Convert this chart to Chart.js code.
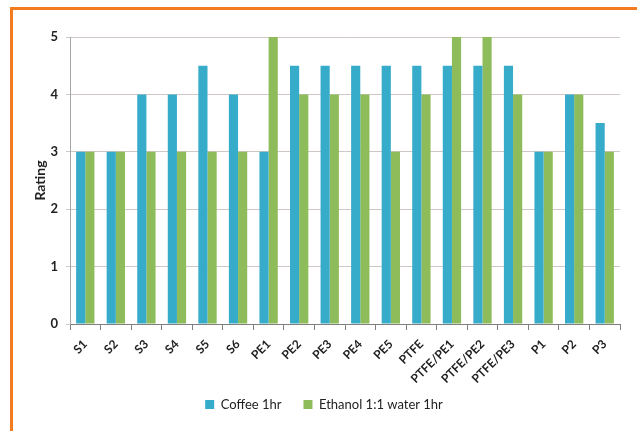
<!DOCTYPE html>
<html>
<head>
<meta charset="utf-8">
<script src="https://cdn.jsdelivr.net/npm/chart.js@4/dist/chart.umd.min.js"></script>
<style>
  html, body { margin: 0; padding: 0; background: #fff; }
  #wrap { position: relative; width: 637px; height: 431px; overflow: hidden; }
  #frame {
    position: absolute; left: 10px; top: 7px; width: 660px; height: 460px;
    border-top: 3px solid #F47B20; border-left: 3px solid #F47B20;
    box-sizing: border-box; pointer-events: none;
  }
  canvas { position: absolute; left: 0; top: 0; }
</style>
</head>
<body>
<div id="wrap">
  <canvas id="c" width="637" height="431"></canvas>
  <div id="frame"></div>
</div>
<script>
// Samples tested
const categories = ['S1', 'S2', 'S3', 'S4', 'S5', 'S6', 'PE1', 'PE2', 'PE3', 'PE4', 'PE5',
  'PTFE', 'PTFE/PE1', 'PTFE/PE2', 'PTFE/PE3', 'P1', 'P2', 'P3'];

// Stain rating after 1 hour exposure
const coffee1hr = [3, 3, 4, 4, 4.5, 4, 3, 4.5, 4.5, 4.5, 4.5, 4.5, 4.5, 4.5, 4.5, 3, 4, 3.5];
const ethanolWater1hr = [3, 3, 3, 3, 3, 3, 5, 4, 4, 4, 3, 4, 5, 5, 4, 3, 4, 3];

const seriesNames = ['Coffee 1hr', 'Ethanol 1:1 water 1hr'];
const yMin = 0, yMax = 5, yStep = 1;

const FONT = 'Lato, "Open Sans", "Liberation Sans", sans-serif';
const TEXT = '#222';

// Pull the legend up a little so it sits closer to the rotated category labels
const legendLift = {
  id: 'legendLift',
  afterLayout(chart) {
    const lg = chart.legend;
    if (lg) { lg.top -= 10; lg.bottom -= 10; }
  }
};

new Chart(document.getElementById('c'), {
  type: 'bar',
  data: {
    labels: categories,
    datasets: [
      { label: seriesNames[0], data: coffee1hr, backgroundColor: '#36ABCA', borderWidth: 0 },
      { label: seriesNames[1], data: ethanolWater1hr, backgroundColor: '#8FBC5A', borderWidth: 0 }
    ]
  },
  plugins: [legendLift],
  options: {
    responsive: false,
    animation: false,
    devicePixelRatio: 1,
    categoryPercentage: 0.6,
    barPercentage: 1.0,
    layout: { padding: { left: 28, right: 17, top: 37, bottom: 0 } },
    plugins: {
      tooltip: { enabled: false },
      legend: {
        position: 'bottom',
        labels: {
          boxWidth: 9, boxHeight: 9, padding: 22,
          color: TEXT,
          font: { family: FONT, size: 13 }
        }
      }
    },
    scales: {
      x: {
        grid: { display: true, drawOnChartArea: false, drawTicks: true, tickLength: 6, color: '#7F7F7F', offset: true },
        border: { color: '#7F7F7F', width: 1 },
        ticks: {
          color: TEXT, autoSkip: false, maxRotation: 45, minRotation: 45, padding: 7,
          font: { family: FONT, size: 12, weight: 'bold' }
        },
        afterFit(scale) { scale.height = 62; }
      },
      y: {
        min: yMin, max: yMax,
        grid: { color: '#CFC7C3', tickLength: 4, lineWidth: 1 },
        border: { color: '#A6A6A6', width: 1 },
        ticks: {
          stepSize: yStep, padding: 8, color: TEXT,
          font: { family: FONT, size: 13, weight: 'bold' }
        },
        title: {
          display: true, text: 'Rating', color: TEXT, padding: { top: 4, bottom: 0 },
          font: { family: FONT, size: 14, weight: 'bold' }
        },
        afterFit(scale) { scale.width = 42; }
      }
    }
  }
});
</script>
</body>
</html>
